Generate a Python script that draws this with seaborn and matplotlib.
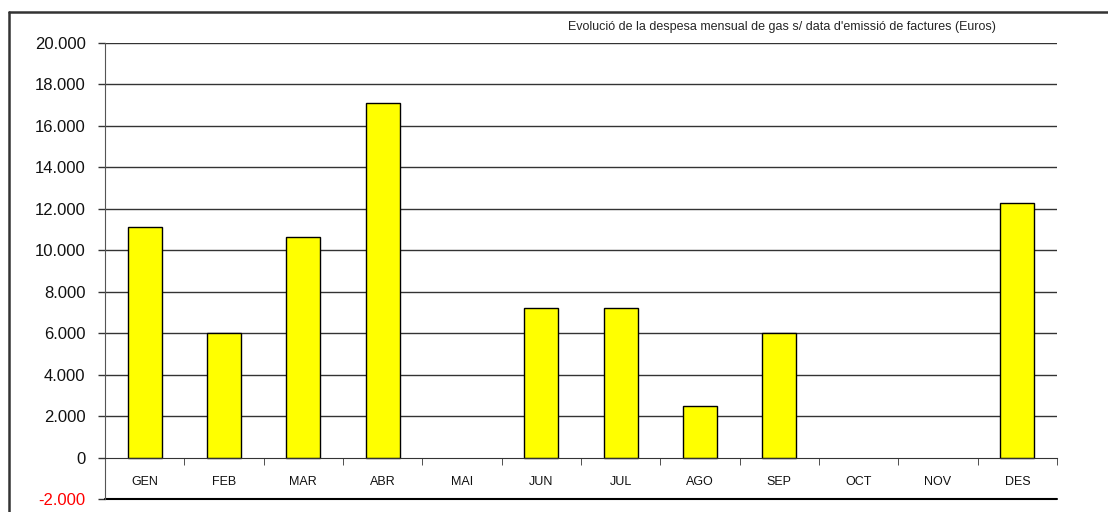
import numpy as np
import pandas as pd
import matplotlib
matplotlib.use("Agg")
import matplotlib.pyplot as plt
import matplotlib.ticker as mticker
from matplotlib.lines import Line2D
import seaborn as sns

# Monthly gas spending (Euros)
months = ['GEN', 'FEB', 'MAR', 'ABR', 'MAI', 'JUN', 'JUL', 'AGO', 'SEP', 'OCT', 'NOV', 'DES']
spend = [11100, 6000, 10650, 17100, np.nan, 7230, 7230, 2500, 6000, np.nan, np.nan, 12300]
title = "Evolució de la despesa mensual de gas s/ data d'emissió de factures (Euros)"

df = pd.DataFrame({'Mes': months, 'Euros': spend})

sns.set_style("white")
plt.rcParams['font.family'] = ['Liberation Sans', 'DejaVu Sans']

fig = plt.figure(figsize=(11.08, 5.12), dpi=100)
ax = fig.add_axes([0.0948, 0.0254, 0.8592, 0.8906])

sns.barplot(x='Mes', y='Euros', data=df, color='#ffff00', edgecolor='black',
            linewidth=1, width=0.43, saturation=1, ax=ax)

ax.set_ylim(-2000, 20000)
ax.set_xlim(-0.5, len(months) - 0.5)
ax.set_yticks(np.arange(-2000, 20001, 2000))
ax.yaxis.set_major_formatter(mticker.FuncFormatter(
    lambda v, p: f"{int(v):,}".replace(',', '.')))
ax.tick_params(axis='y', direction='out', length=5, width=1, color='#333333',
               labelsize=12, labelcolor='#111111', pad=9, left=True)

# gridlines
for v in np.arange(2000, 20001, 2000):
    ax.axhline(v, color='#333333', linewidth=1, zorder=0)
ax.axhline(-2000, color='black', linewidth=1.5, clip_on=False)

# x axis sits at zero, ticks between categories
ax.spines['bottom'].set_position(('data', 0))
ax.spines['bottom'].set_color('#333333')
ax.spines['left'].set_color('#555555')
ax.spines['top'].set_visible(False)
ax.spines['right'].set_visible(False)
ax.set_xticks(np.arange(-0.5, len(months), 1), minor=True)
ax.tick_params(axis='x', which='minor', direction='out', length=5, color='#333333', bottom=True)
ax.tick_params(axis='x', which='major', length=0, labelsize=9, labelcolor='#111111', pad=13)
ax.set_xlabel('')
ax.set_ylabel('')

fig.canvas.draw()
for lbl in ax.get_yticklabels():
    if lbl.get_text().startswith(('-', '\u2212')):
        lbl.set_color('red')

fig.text(0.706, 0.947, title, fontsize=9, ha='center', va='center')

# outer frame lines
fig.add_artist(Line2D([0.0081, 0.0081], [0, 0.977], color='#333333', linewidth=1.8))
fig.add_artist(Line2D([0.0081, 1.0], [0.977, 0.977], color='#333333', linewidth=1.8))

fig.savefig('out.png', dpi=100)
